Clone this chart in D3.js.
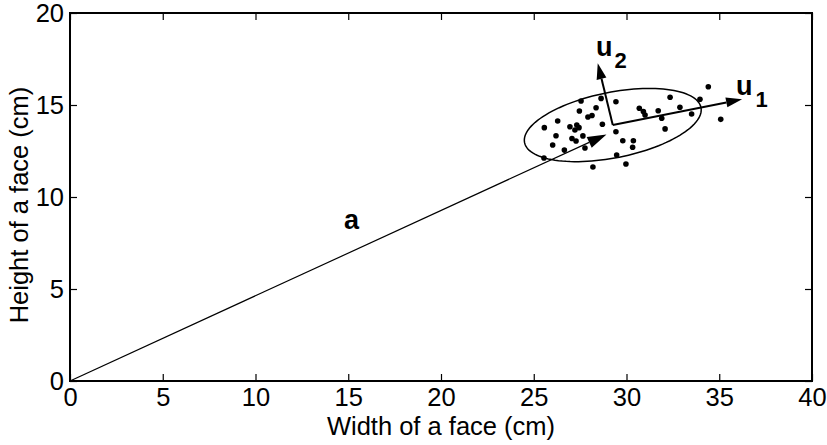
<!DOCTYPE html>
<html>
<head>
<meta charset="utf-8">
<script src="https://cdn.jsdelivr.net/npm/d3@7"></script>
<style>
body { margin: 0; background: #fff; }
text { font-family: "Liberation Sans", Arial, sans-serif; fill: #000; }
</style>
</head>
<body>
<script>
// tick values
const xTicks = [0, 5, 10, 15, 20, 25, 30, 35, 40];
const yTicks = [0, 5, 10, 15, 20];

// face samples (width, height) in cm
const faceWidth = [27.55, 28.63, 27.46, 28.36, 27.92, 28.14, 26.29, 25.57, 26.95, 27.32,
    27.44, 27.22, 28.70, 26.20, 27.06, 27.28, 27.65, 26.02, 26.65, 27.76,
    25.55, 29.43, 30.69, 30.91, 31.00, 31.71, 31.90, 32.35, 32.88, 33.51,
    33.96, 34.41, 32.08, 29.43, 29.80, 30.37, 30.33, 29.47, 35.08, 28.19, 29.97];
const faceHeight = [15.22, 15.36, 14.67, 14.85, 14.35, 14.43, 14.13, 13.77, 13.82, 13.91,
    13.77, 13.64, 13.95, 13.33, 13.18, 13.04, 13.32, 12.83, 12.55, 12.66,
    12.12, 15.18, 14.82, 14.64, 14.46, 14.69, 14.28, 15.42, 14.88, 14.51,
    15.31, 15.99, 13.70, 13.55, 13.06, 13.06, 12.70, 12.28, 14.22, 11.63, 11.79];

// vectors
const meanFace = [29.26, 13.91];
const vecA = [28.92, 13.40];
const vecU1 = [36.23, 15.31];
const vecU2 = [28.45, 17.27];
const ellipseAxes = [4.85, 1.78];

const width = 827, height = 445;
const margin = {left: 70, top: 13, right: 15, bottom: 64};

const svg = d3.select("body").append("svg")
    .attr("width", width)
    .attr("height", height);

const x = d3.scaleLinear().domain([0, 40]).range([margin.left, width - margin.right]);
const y = d3.scaleLinear().domain([0, 20]).range([height - margin.bottom, margin.top]);

const fontSize = 25.5;

// axes (MATLAB style, ticks inside)
const xAxis = svg.append("g")
    .attr("transform", `translate(0,${y(0)})`)
    .call(d3.axisBottom(x).tickValues(xTicks).tickSizeInner(-7).tickSizeOuter(0).tickPadding(7));
const xAxisTop = svg.append("g")
    .attr("transform", `translate(0,${y(20)})`)
    .call(d3.axisTop(x).tickValues(xTicks).tickSizeInner(-7).tickSizeOuter(0).tickFormat(""));
const yAxis = svg.append("g")
    .attr("transform", `translate(${x(0)},0)`)
    .call(d3.axisLeft(y).tickValues(yTicks).tickSizeInner(-7).tickSizeOuter(0).tickPadding(6));
const yAxisRight = svg.append("g")
    .attr("transform", `translate(${x(40)},0)`)
    .call(d3.axisRight(y).tickValues(yTicks).tickSizeInner(-7).tickSizeOuter(0).tickFormat(""));

[xAxis, xAxisTop, yAxis, yAxisRight].forEach(g => {
    g.select(".domain").remove();
    g.selectAll(".tick line").attr("stroke", "#000").attr("stroke-width", 1.2);
    g.selectAll(".tick text")
        .attr("font-size", fontSize)
        .attr("font-family", "Liberation Sans, Arial, sans-serif")
        .attr("fill", "#000");
});

svg.append("rect")
    .attr("x", x(0))
    .attr("y", y(20))
    .attr("width", x(40) - x(0))
    .attr("height", y(0) - y(20))
    .attr("fill", "none")
    .attr("stroke", "#000")
    .attr("stroke-width", 2);

// axis labels
svg.append("text")
    .attr("x", (x(0) + x(40)) / 2)
    .attr("y", 435)
    .attr("text-anchor", "middle")
    .attr("font-size", fontSize)
    .text("Width of a face (cm)");

svg.append("text")
    .attr("transform", `translate(28,205) rotate(-90)`)
    .attr("text-anchor", "middle")
    .attr("font-size", fontSize)
    .text("Height of a face (cm)");

// ellipse around the cloud
const theta = Math.atan2(vecU1[1] - meanFace[1], vecU1[0] - meanFace[0]);
const ellipsePts = d3.range(0, 361, 3).map(deg => {
    const t = deg * Math.PI / 180;
    const ex = ellipseAxes[0] * Math.cos(t), ey = ellipseAxes[1] * Math.sin(t);
    return [meanFace[0] + ex * Math.cos(theta) - ey * Math.sin(theta),
            meanFace[1] + ex * Math.sin(theta) + ey * Math.cos(theta)];
});
svg.append("path")
    .attr("d", d3.line().x(d => x(d[0])).y(d => y(d[1]))(ellipsePts))
    .attr("fill", "none")
    .attr("stroke", "#000")
    .attr("stroke-width", 1.5);

// points
svg.append("g")
    .selectAll("circle")
    .data(faceWidth.map((w, i) => [w, faceHeight[i]]))
    .join("circle")
    .attr("cx", d => x(d[0]))
    .attr("cy", d => y(d[1]))
    .attr("r", 2.8)
    .attr("fill", "#000");

// arrows
const drawArrow = (from, to, sw, headLen, headW) => {
    const x0 = x(from[0]), y0 = y(from[1]), x1 = x(to[0]), y1 = y(to[1]);
    const len = Math.hypot(x1 - x0, y1 - y0);
    const ux = (x1 - x0) / len, uy = (y1 - y0) / len;
    const bx = x1 - ux * headLen, by = y1 - uy * headLen;
    svg.append("line")
        .attr("x1", x0).attr("y1", y0)
        .attr("x2", bx).attr("y2", by)
        .attr("stroke", "#000")
        .attr("stroke-width", sw);
    svg.append("path")
        .attr("d", `M${x1},${y1}L${bx - uy * headW},${by + ux * headW}L${bx + uy * headW},${by - ux * headW}Z`)
        .attr("fill", "#000");
};

drawArrow([0, 0], vecA, 1.2, 19, 6);
drawArrow(meanFace, vecU1, 2, 16, 5);
drawArrow(meanFace, vecU2, 2, 16, 5);

// vector labels
svg.append("text")
    .attr("x", 344).attr("y", 229)
    .attr("font-size", 27).attr("font-weight", "bold")
    .text("a");

const u1 = svg.append("text").attr("x", 736).attr("y", 95).attr("font-weight", "bold");
u1.append("tspan").attr("font-size", 27).text("u");
u1.append("tspan").attr("font-size", 22).attr("dy", 12).attr("dx", 3).text("1");

const u2 = svg.append("text").attr("x", 596).attr("y", 56).attr("font-weight", "bold");
u2.append("tspan").attr("font-size", 27).text("u");
u2.append("tspan").attr("font-size", 22).attr("dy", 12).attr("dx", 2).text("2");
</script>
</body>
</html>
